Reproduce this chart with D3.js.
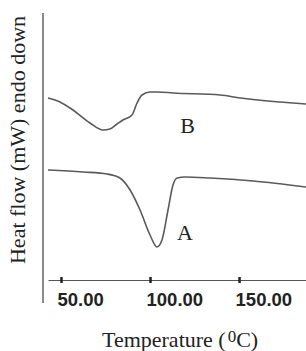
<!DOCTYPE html>
<html>
<head>
<meta charset="utf-8">
<script src="https://cdn.jsdelivr.net/npm/d3@7"></script>
<style>
  body { margin: 0; background: #fff; }
  svg { display: block; }
</style>
</head>
<body>
<div id="chart"></div>
<script>
// temperature (deg C) and heat flow (arbitrary units)
const tempB = [42.7, 49.4, 56.7, 66.3, 73.6, 77.5, 81.5, 84.8, 89.9, 92.7, 95.5, 100.0, 104.5, 113.0, 139.4, 150.6, 173.0, 187.6];
const flowB = [18.2, 17.8, 17.0, 15.7, 15.0, 15.1, 15.6, 16.0, 16.5, 17.7, 18.5, 18.8, 18.8, 18.7, 18.5, 18.2, 17.8, 17.6];

const tempA = [42.7, 62.4, 75.8, 83.1, 88.8, 94.4, 100.0, 103.9, 106.7, 110.1, 112.9, 115.2, 119.7, 133.7, 157.9, 187.6];
const flowA = [11.0, 10.8, 10.6, 10.2, 9.0, 7.0, 4.5, 3.3, 4.0, 7.0, 9.5, 10.2, 10.3, 10.2, 9.9, 9.3];

const xTicks = [50, 100, 150];
const curveNames = ["B", "A"];

const W = 306, H = 351;

const svg = d3.select("#chart").append("svg")
  .attr("width", W)
  .attr("height", H);

const x = d3.scaleLinear().domain([42.7, 187.6]).range([48, 306]);
const y = d3.scaleLinear().domain([0, 27]).range([280, 10]);

// vertical axis bar (no ticks)
svg.append("line")
  .attr("x1", 43).attr("x2", 43)
  .attr("y1", 13).attr("y2", 303)
  .attr("stroke", "#8a8a8a")
  .attr("stroke-width", 2);

// x axis
const xAxis = svg.append("g")
  .attr("transform", "translate(0,280)")
  .call(d3.axisBottom(x).tickValues(xTicks).tickFormat(d3.format(".2f")).tickSize(6).tickSizeOuter(0));

xAxis.select(".domain").attr("stroke", "#555").attr("stroke-width", 1.2);
xAxis.selectAll(".tick line")
  .attr("y1", -3).attr("y2", 3)
  .attr("stroke", "#222").attr("stroke-width", 2.5);
xAxis.selectAll(".tick text")
  .attr("text-anchor", "start")
  .attr("x", -4).attr("y", 26).attr("dy", 0)
  .attr("fill", "#222")
  .style("font-family", "'Liberation Sans', Arial, sans-serif")
  .style("font-weight", "bold")
  .style("font-size", "18.5px");

// curves
const line = d3.line()
  .x(d => x(d[0]))
  .y(d => y(d[1]))
  .curve(d3.curveMonotoneX);

const series = [d3.zip(tempB, flowB), d3.zip(tempA, flowA)];

svg.selectAll("path.curve")
  .data(series)
  .enter().append("path")
  .attr("class", "curve")
  .attr("d", line)
  .attr("fill", "none")
  .attr("stroke", "#5a5a5a")
  .attr("stroke-width", 1.6);

// curve labels
const serif = "'Liberation Serif', 'Times New Roman', serif";
svg.append("text")
  .attr("x", x(117)).attr("y", y(14.7))
  .style("font-family", serif).style("font-size", "22px").attr("fill", "#222")
  .text(curveNames[0]);
svg.append("text")
  .attr("x", x(115.2)).attr("y", y(4))
  .style("font-family", serif).style("font-size", "22px").attr("fill", "#222")
  .text(curveNames[1]);

// axis titles
const xt = svg.append("text")
  .attr("x", 102).attr("y", 347)
  .style("font-family", serif).style("font-size", "22px").attr("fill", "#222");
xt.append("tspan").text("Temperature (");
xt.append("tspan").attr("dy", -5).attr("dx", 2).style("font-size", "17px").text("0");
xt.append("tspan").attr("dy", 5).text("C)");

svg.append("text")
  .attr("transform", "translate(25,140) rotate(-90)")
  .attr("text-anchor", "middle")
  .style("font-family", serif).style("font-size", "22px").attr("fill", "#222")
  .text("Heat flow (mW) endo down");
</script>
</body>
</html>
